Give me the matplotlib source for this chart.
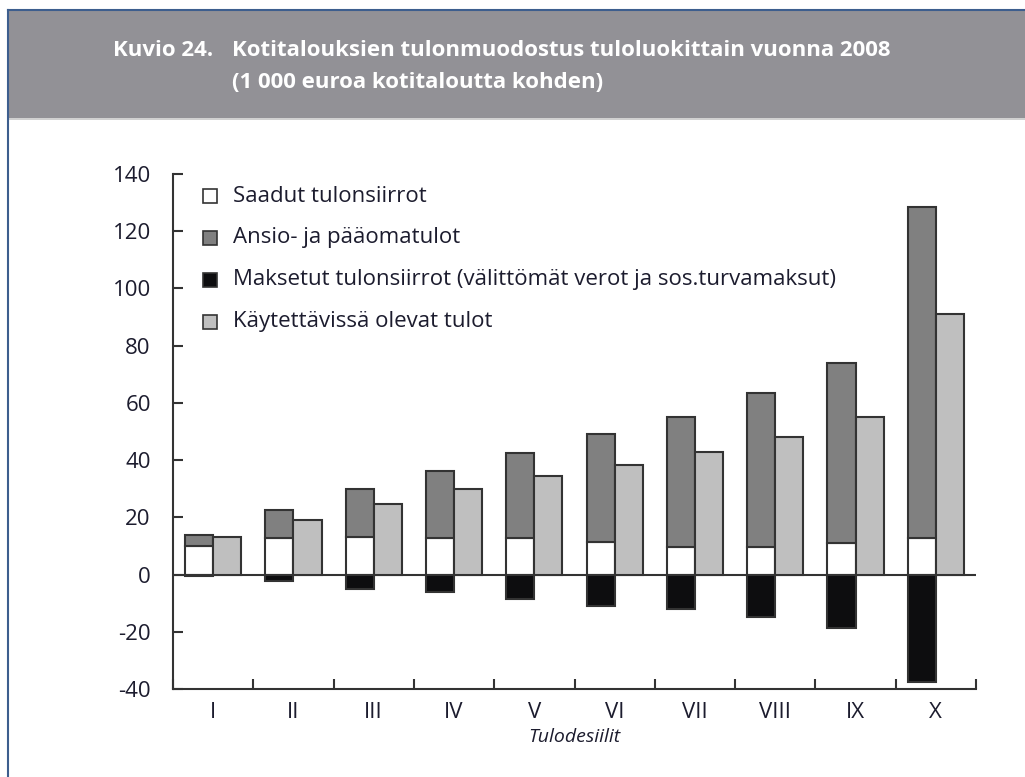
import matplotlib.pyplot as plt
import numpy as np
from matplotlib.patches import Rectangle
from matplotlib.lines import Line2D

categories = ['I', 'II', 'III', 'IV', 'V', 'VI', 'VII', 'VIII', 'IX', 'X']
received = [10.0, 12.7, 13.3, 12.7, 12.7, 11.5, 9.8, 9.8, 10.9, 12.7]
earned_total = [13.8, 22.6, 29.8, 36.2, 42.4, 49.3, 55.0, 63.4, 73.9, 128.6]
paid = [-0.4, -2.2, -5.0, -6.2, -8.5, -10.9, -12.0, -14.8, -18.8, -37.7]
disposable = [13.3, 19.1, 24.7, 29.8, 34.4, 38.3, 43.0, 48.1, 55.0, 91.0]
earned = [t - r for t, r in zip(earned_total, received)]

labels = ['Saadut tulonsiirrot', 'Ansio- ja pääomatulot',
          'Maksetut tulonsiirrot (välittömät verot ja sos.turvamaksut)',
          'Käytettävissä olevat tulot']
colors = ['#ffffff', '#808080', '#0d0d0f', '#bfbfbf']
edge = '#333333'
text_col = '#1c1c2e'

plt.rcParams['font.family'] = ['Open Sans', 'DejaVu Sans']
plt.rcParams['axes.unicode_minus'] = False

W, H = 1025, 777
fig = plt.figure(figsize=(W / 100, H / 100), dpi=100)

# header band and frame lines (left + top only)
fig.patches.append(Rectangle((9 / W, (H - 118) / H), 1, 107 / H, transform=fig.transFigure,
                             facecolor='#929196', edgecolor='none', zorder=-1))
fig.lines.append(Line2D([9 / W, 1], [(H - 118.5) / H] * 2, transform=fig.transFigure,
                        color='#c8c8c8', lw=1.2))
fig.lines.append(Line2D([8 / W, 8 / W], [0, (H - 10) / H], transform=fig.transFigure,
                        color='#3d5e8e', lw=1.5))
fig.lines.append(Line2D([8 / W, 1], [(H - 10) / H] * 2, transform=fig.transFigure,
                        color='#3d5e8e', lw=1.5))

tkw = dict(color='white', fontsize=16, fontweight='bold', va='center')
fig.text(113 / W, 1 - 50 / H, 'Kuvio 24.', **tkw)
fig.text(232 / W, 1 - 50 / H, 'Kotitalouksien tulonmuodostus tuloluokittain vuonna 2008', **tkw)
fig.text(232 / W, 1 - 82 / H, '(1 000 euroa kotitaloutta kohden)', **tkw)

ax = fig.add_axes([173 / W, (H - 689) / H, (976 - 173) / W, (689 - 174) / H])
x = np.arange(len(categories))
w = 0.35
kw = dict(width=w, edgecolor=edge, linewidth=1.5, zorder=3)
ax.bar(x - w / 2, received, color=colors[0], **kw)
ax.bar(x - w / 2, earned, bottom=received, color=colors[1], **kw)
ax.bar(x - w / 2, paid, color=colors[2], **kw)
ax.bar(x + w / 2, disposable, color=colors[3], **kw)
ax.axhline(0, color=edge, lw=1.5, zorder=2)

ax.set_xlim(-0.5, len(categories) - 0.5)
ax.set_ylim(-40, 140)
ax.set_yticks(range(-40, 141, 20))
ax.set_xticks(np.arange(-0.5, len(categories), 1.0))
ax.set_xticklabels([])
ax.set_xticks(x, categories, minor=True)
ax.tick_params(axis='x', which='major', direction='in', length=7, width=1.5, color=edge)
ax.tick_params(axis='x', which='minor', length=0, pad=9, labelsize=16, labelcolor=text_col)
ax.tick_params(axis='y', direction='in', length=7, width=1.5, color=edge, pad=16,
               labelsize=16, labelcolor=text_col)
for s in ['top', 'right']:
    ax.spines[s].set_visible(False)
for s in ['left', 'bottom']:
    ax.spines[s].set_color(edge)
    ax.spines[s].set_linewidth(1.5)
ax.set_xlabel('Tulodesiilit', style='italic', fontsize=14, color=text_col, labelpad=4)

# legend
for i, (lab, c) in enumerate(zip(labels, colors)):
    yy = 1 - (196 + i * 42) / H
    fig.patches.append(Rectangle((203 / W, yy - 7 / H), 14 / W, 14 / H, transform=fig.transFigure,
                                 facecolor=c, edgecolor=edge, lw=1.2, zorder=5))
    fig.text(233 / W, yy, lab, fontsize=16, color=text_col, va='center')

fig.savefig('out.png', dpi=100)
